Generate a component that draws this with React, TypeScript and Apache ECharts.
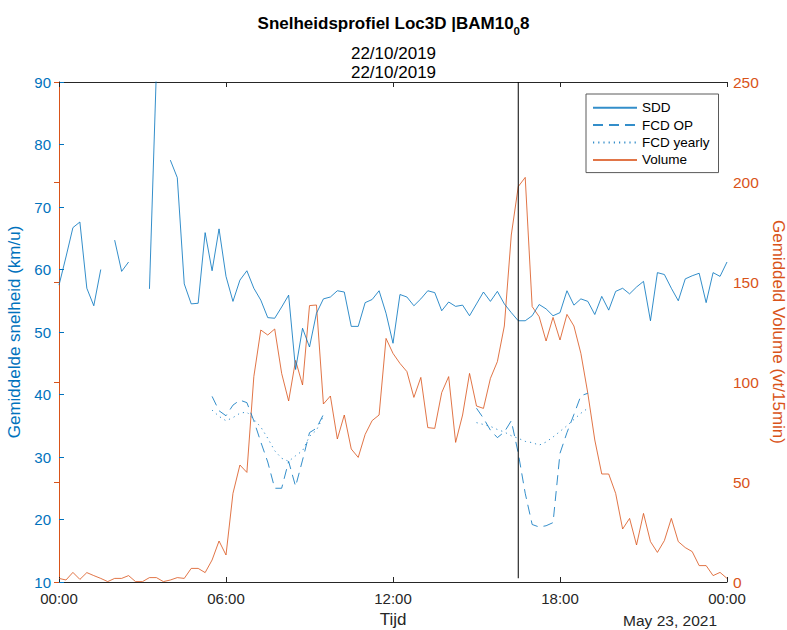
import React, { useEffect, useRef } from "react";
import * as echarts from "echarts";

// 15-minute time slots from 00:00 to 24:00 (97 samples), expressed in hours
const SLOT_HOURS = 0.25;
const SLOT_COUNT = 97;

// Measured mean speed (km/u); null marks missing samples
const sddSpeed: (number | null)[] = [
  57.5, 62, 66.7, 67.6, 57, 54.2, 60, null, 64.7, 59.7,
  61.2, null, null, 56.9, 92, null, 77.5, 74.7, 57.7, 54.5,
  54.6, 65.9, 59.8, 66.5, 58.9, 54.9, 58.3, 59.8, 57.0, 55.1,
  52.3, 52.2, 54.0, 55.9, 44, 50.6, 47.6, 53, 55.3, 55.6,
  56.6, 56.4, 50.9, 50.9, 54.7, 55.2, 56.6, 53, 48.2, 56,
  55.6, 54.2, 55.3, 56.6, 56.3, 53.4, 54.8, 54.1, 54.3, 52.6,
  54.5, 56.4, 54.9, 56.5, 54.5, 53.1, 51.8, 51.8, 52.6, 54.4,
  53.7, 52.6, 53.1, 56.6, 54.3, 55.3, 54.9, 52.8, 55.7, 53.5,
  56.5, 57, 56.1, 57.2, 58.1, 51.8, 59.5, 59.2, 57, 55,
  58.5, 59, 59.4, 54.7, 59.5, 58.9, 61.2,
];

// Volume per 15 minutes (vt/15min)
const volume: number[] = [
  1.8, 1, 4.8, 1.3, 4.7, 3.2, 1.8, 0.2, 1.8, 1.8,
  3.2, 0.2, 0.2, 2.2, 2.2, 0.2, 1, 2.2, 1.8, 6.8,
  6.8, 4.7, 11, 20.5, 13.5, 44.3, 58.5, 54.8, 102.7, 126,
  123.5, 126.5, 104.3, 90.5, 110.8, 98.5, 138.2, 138.5, 89, 93,
  71.5, 83.5, 66.5, 62.3, 73.8, 80.7, 83.5, 121.8, 114.3, 109.3,
  105.2, 92.3, 102.3, 77.2, 76.8, 94.7, 102.7, 69.8, 83.5, 104.3,
  88, 86.8, 101.8, 110.2, 128, 173.5, 197.7, 202.3, 137.7, 132.7,
  120.5, 132.3, 121, 133.8, 128, 114.3, 94.3, 71, 54, 54,
  44.3, 26.5, 31.8, 18.5, 34.3, 20.2, 14.8, 20.7, 31.8, 20.2,
  17.2, 15.2, 8.2, 8.2, 3.2, 4.8, 1.8,
];

// FCD speeds only exist during the peak periods (starting slot + values)
const peakAmStart = 22; // 05:30
const peakPmStart = 60; // 15:00
const fcdOpAm = [39.7, 37.4, 36.6, 38.3, 39.1, 38.7, 35.8, 32.4, 29.2, 25, 25, 29.3, 25.3, 29.5, 33.9, 34.6, 36.8];
const fcdOpPm = [37.8, 36.2, 34.3, 33.1, 34, 35.8, 30.6, 24.2, 19.2, 18.8, 19, 19.5, 30.6, 33.9, 36.8, 39.8, 40.2];
const fcdYearlyAm = [37.5, 36.5, 35.8, 36.3, 37, 37.2, 36, 34.8, 33, 31, 29.8, 29.3, 30.2, 31, 33.3, 34.3, 36.5];
const fcdYearlyPm = [35.5, 35.2, 34.9, 34.4, 34, 33.4, 33, 32.5, 32.3, 31.9, 32.4, 33.2, 34.1, 35, 36, 37, 37.8];

// Moment of the vertical reference line (hours)
const markerHour = 16.5;
const markerSpan = [10.6, 90];

const seriesNames = ["SDD", "FCD OP", "FCD yearly", "Volume"];
const xTickHours = [0, 6, 12, 18, 24];

const BLUE = "#0072BD";
const ORANGE = "#D95319";
const AXIS = "#262626";
const FONT = "'Liberation Sans', Arial, Helvetica, sans-serif";

function toPairs(values: (number | null)[]) {
  return values.map((v, i) => [i * SLOT_HOURS, v]);
}

function placeSegments(segments: [number, number[]][]) {
  const out: (number | null)[] = new Array(SLOT_COUNT).fill(null);
  segments.forEach(([start, vals]) => {
    vals.forEach((v, k) => {
      out[start + k] = v;
    });
  });
  return out;
}

function hhmm(v: number) {
  const h = Math.round(v) % 24;
  return `${String(h).padStart(2, "0")}:00`;
}

export default function App() {
  const ref = useRef<HTMLDivElement>(null);

  useEffect(() => {
    if (!ref.current) return;
    const chart = echarts.init(ref.current, null, { renderer: "svg" });

    const fcdOp = placeSegments([[peakAmStart, fcdOpAm], [peakPmStart, fcdOpPm]]);
    const fcdYearly = placeSegments([[peakAmStart, fcdYearlyAm], [peakPmStart, fcdYearlyPm]]);

    const baseLine = {
      type: "line" as const,
      symbol: "none",
      showSymbol: false,
      connectNulls: false,
      clip: true,
      silent: true,
    };

    const xCommon = {
      type: "value" as const,
      min: 0,
      max: 24,
      interval: 6,
      splitLine: { show: false },
      axisLine: { show: true, lineStyle: { color: AXIS, width: 1 } },
      axisTick: { show: true, inside: true, length: 5, lineStyle: { color: AXIS } },
    };

    chart.setOption({
      animation: false,
      backgroundColor: "#ffffff",
      textStyle: { fontFamily: FONT },
      title: [
        {
          text: "{b|Snelheidsprofiel Loc3D |BAM10}{s|0}{b|8}",
          left: "center",
          top: 5,
          textStyle: {
            rich: {
              b: { fontSize: 17, fontWeight: "bold", color: "#000", fontFamily: FONT },
              s: { fontSize: 11.5, fontWeight: "bold", color: "#000", fontFamily: FONT, padding: [15, 0, 0, 0] },
            },
          },
        },
        {
          text: "22/10/2019\n22/10/2019",
          left: "center",
          top: 39,
          textStyle: { fontSize: 17, fontWeight: "normal", lineHeight: 19, color: "#000", fontFamily: FONT },
        },
      ],
      grid: { left: 59, right: 60, top: 82, bottom: 48, containLabel: false, outerBoundsMode: "none" },
      legend: {
        data: seriesNames,
        orient: "vertical",
        left: 586,
        top: 94,
        itemWidth: 44,
        itemHeight: 10,
        itemGap: 0,
        padding: [5, 9, 4, 6],
        backgroundColor: "#ffffff",
        borderColor: "#5a5a5a",
        borderWidth: 1,
        borderRadius: 0,
        itemStyle: { opacity: 0 },
        textStyle: { fontSize: 13.5, color: "#000", lineHeight: 17.4, fontFamily: FONT },
        selectedMode: false,
      },
      xAxis: [
        {
          ...xCommon,
          position: "bottom",
          axisLabel: {
            formatter: (v: number) => (xTickHours.includes(v) ? hhmm(v) : ""),
            fontSize: 15,
            color: AXIS,
            margin: 9,
            fontFamily: FONT,
          },
          name: "Tijd",
          nameLocation: "middle",
          nameGap: 29,
          nameTextStyle: { fontSize: 17, color: AXIS, fontFamily: FONT },
        },
        {
          ...xCommon,
          position: "top",
          axisLabel: { show: false },
        },
      ],
      yAxis: [
        {
          type: "value",
          position: "left",
          min: 10,
          max: 90,
          interval: 10,
          splitLine: { show: false },
          axisLine: { show: true, lineStyle: { color: BLUE, width: 1 } },
          axisTick: { show: true, inside: true, length: 5, lineStyle: { color: BLUE } },
          axisLabel: { fontSize: 15, color: BLUE, margin: 8, fontFamily: FONT },
          name: "Gemiddelde snelheid (km/u)",
          nameLocation: "middle",
          nameRotate: 90,
          nameGap: 20,
          nameTextStyle: { fontSize: 17, color: BLUE, fontFamily: FONT },
        },
        {
          type: "value",
          position: "right",
          min: 0,
          max: 250,
          interval: 50,
          splitLine: { show: false },
          axisLine: { show: true, lineStyle: { color: ORANGE, width: 1 } },
          axisTick: { show: true, inside: true, length: 5, lineStyle: { color: ORANGE } },
          axisLabel: { fontSize: 15.5, color: ORANGE, margin: 6, fontFamily: FONT },
          name: "Gemiddeld Volume (vt/15min)",
          nameLocation: "middle",
          nameRotate: -90,
          nameGap: 36,
          nameTextStyle: { fontSize: 17, color: ORANGE, fontFamily: FONT },
        },
      ],
      graphic: [
        {
          type: "text",
          right: 70,
          top: 612,
          style: { text: "May 23, 2021", fontSize: 15.5, fill: AXIS, fontFamily: FONT },
        },
      ],
      series: [
        {
          ...baseLine,
          name: "SDD",
          yAxisIndex: 0,
          data: toPairs(sddSpeed),
          lineStyle: { color: BLUE, width: 1, opacity: 0.8 },
          itemStyle: { color: BLUE },
          z: 3,
        },
        {
          ...baseLine,
          name: "FCD OP",
          yAxisIndex: 0,
          data: toPairs(fcdOp),
          lineStyle: { color: BLUE, width: 1, opacity: 0.8, type: [10, 6] },
          itemStyle: { color: BLUE },
          z: 3,
        },
        {
          ...baseLine,
          name: "FCD yearly",
          yAxisIndex: 0,
          data: toPairs(fcdYearly),
          lineStyle: { color: BLUE, width: 1, opacity: 0.8, type: [1.2, 4] },
          itemStyle: { color: BLUE },
          z: 3,
        },
        {
          ...baseLine,
          name: "Volume",
          yAxisIndex: 1,
          data: toPairs(volume),
          lineStyle: { color: ORANGE, width: 1, opacity: 0.8 },
          itemStyle: { color: ORANGE },
          z: 2,
        },
        {
          ...baseLine,
          name: "marker",
          yAxisIndex: 0,
          data: markerSpan.map((y) => [markerHour, y]),
          lineStyle: { color: "#000", width: 1 },
          itemStyle: { color: "#000" },
          z: 4,
        },
      ],
    });

    return () => chart.dispose();
  }, []);

  return (
    <div
      ref={ref}
      style={{ position: "fixed", left: 0, top: 0, width: 787, height: 630, background: "#fff" }}
    />
  );
}
